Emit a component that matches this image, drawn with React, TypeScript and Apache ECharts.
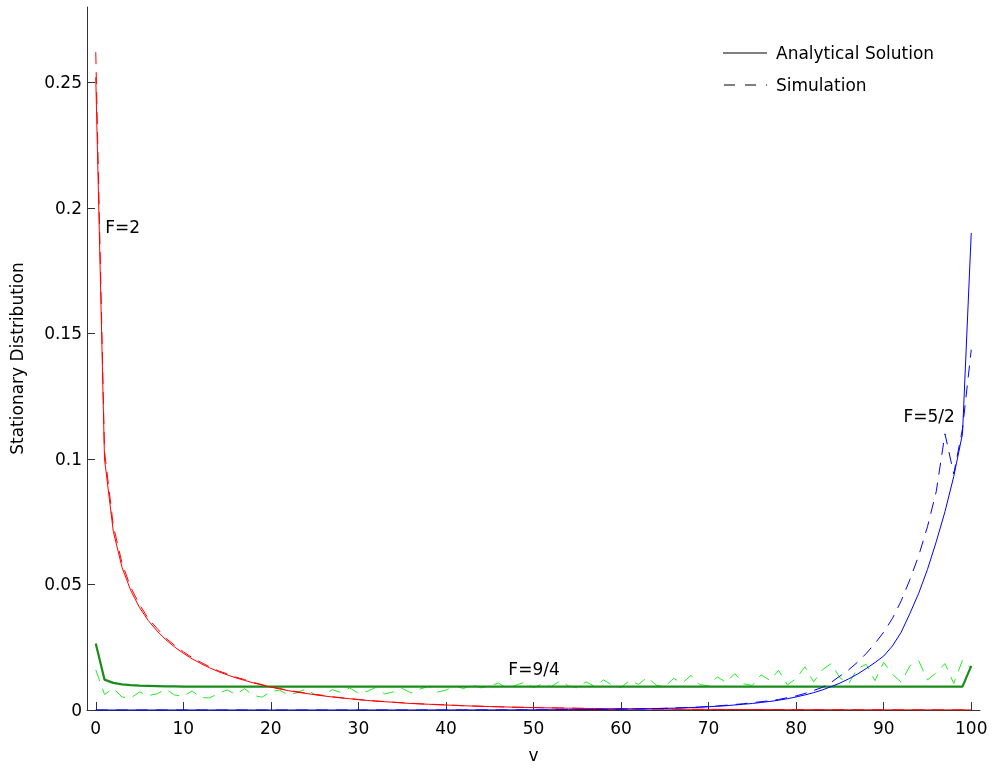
import React, { useEffect, useRef } from "react";
import * as echarts from "echarts";

// v = 0..100
const vValues: number[] = Array.from({ length: 101 }, (_, i) => i);
const xTicks = [0, 10, 20, 30, 40, 50, 60, 70, 80, 90, 100];
const yTicks = [0, 0.05, 0.1, 0.15, 0.2, 0.25];

// F=2 (red)
const redAnalytical = [
  0.252, 0.1, 0.0712, 0.0568, 0.0476, 0.0408, 0.0356, 0.0315, 0.028, 0.0251,
  0.0226, 0.0204, 0.0185, 0.0168, 0.0153, 0.014, 0.0128, 0.0118, 0.0108, 0.0099,
  0.0091, 0.0084, 0.0077, 0.0071, 0.0066, 0.0061, 0.0056, 0.0052, 0.0048, 0.0045,
  0.0041, 0.0038, 0.0035, 0.0033, 0.0031, 0.0028, 0.0026, 0.0024, 0.0023, 0.0021,
  0.002, 0.00184, 0.0017, 0.00158, 0.00147, 0.00137, 0.00127, 0.00118, 0.0011, 0.00103,
  0.00096, 0.00089, 0.00083, 0.00077, 0.00072, 0.00067, 0.00062, 0.00058, 0.00054, 0.0005,
  0.00047, 0.00044, 0.00041, 0.00038, 0.00035, 0.00033, 0.00031, 0.00029, 0.00027, 0.00025,
  0.00024, 0.00022, 0.0002, 0.00019, 0.00018, 0.00017, 0.00016, 0.00015, 0.00014, 0.00013,
  0.00012, 0.00011, 0.0001, 0.0001, 0.00009, 0.00009, 0.00008, 0.00008, 0.00007, 0.00007,
  0.00006, 0.00006, 0.00005, 0.00005, 0.00005, 0.00004, 0.00004, 0.00004, 0.00003, 0.00003,
  0.00003,
];
const redSimulation = [
  0.262, 0.103, 0.0735, 0.0585, 0.0488, 0.042, 0.0364, 0.0325, 0.0286, 0.0258,
  0.0232, 0.0209, 0.019, 0.0172, 0.0156, 0.0144, 0.0131, 0.0121, 0.011, 0.0101,
  0.0092, 0.0086, 0.0078, 0.0073, 0.0067, 0.0062, 0.0058, 0.0053, 0.0049, 0.0046,
  0.0042, 0.0039, 0.0036, 0.0034, 0.0031, 0.0029, 0.0027, 0.0025, 0.0023, 0.0022,
  0.002, 0.0019, 0.0017, 0.0016, 0.0015, 0.0014, 0.0013, 0.0012, 0.0011, 0.00105,
  0.001, 0.00092, 0.00085, 0.0008, 0.00074, 0.0007, 0.00064, 0.0006, 0.00055, 0.00052,
  0.00048, 0.00046, 0.00042, 0.0004, 0.00036, 0.00034, 0.00032, 0.0003, 0.00028, 0.00026,
  0.00025, 0.00023, 0.00021, 0.0002, 0.00019, 0.00018, 0.00016, 0.00015, 0.00015, 0.00013,
  0.00012, 0.00012, 0.00011, 0.0001, 0.00009, 0.00009, 0.00008, 0.00008, 0.00007, 0.00007,
  0.00006, 0.00006, 0.00005, 0.00005, 0.00005, 0.00004, 0.00004, 0.00004, 0.00003, 0.00003,
  0.00003,
];

// F=9/4 (green)
const greenAnalytical = [
  0.0265, 0.0121, 0.0108, 0.0102, 0.0099, 0.0097, 0.0096, 0.0095, 0.0094, 0.0094,
  0.0093, 0.0093, 0.0093, 0.0093, 0.0093, 0.0093, 0.0093, 0.0093, 0.0093, 0.0093,
  0.0093, 0.0093, 0.0093, 0.0093, 0.0093, 0.0093, 0.0093, 0.0093, 0.0093, 0.0093,
  0.0093, 0.0093, 0.0093, 0.0093, 0.0093, 0.0093, 0.0093, 0.0093, 0.0093, 0.0093,
  0.0093, 0.0093, 0.0093, 0.0093, 0.0093, 0.0093, 0.0093, 0.0093, 0.0093, 0.0093,
  0.0093, 0.0093, 0.0093, 0.0093, 0.0093, 0.0093, 0.0093, 0.0093, 0.0093, 0.0093,
  0.0093, 0.0093, 0.0093, 0.0093, 0.0093, 0.0093, 0.0093, 0.0093, 0.0093, 0.0093,
  0.0093, 0.0093, 0.0093, 0.0093, 0.0093, 0.0093, 0.0093, 0.0093, 0.0093, 0.0093,
  0.0093, 0.0093, 0.0093, 0.0093, 0.0093, 0.0093, 0.0093, 0.0093, 0.0093, 0.0093,
  0.0093, 0.0093, 0.0093, 0.0093, 0.0093, 0.0093, 0.0093, 0.0093, 0.0093, 0.0093,
  0.0176,
];
const greenSimulation = [
  0.016, 0.0062, 0.0086, 0.0052, 0.0047, 0.0072, 0.0058, 0.0064, 0.0083, 0.006,
  0.0054, 0.0076, 0.005, 0.0048, 0.0066, 0.008, 0.0062, 0.0085, 0.0058, 0.0051,
  0.0074, 0.0079, 0.006, 0.0069, 0.0084, 0.0062, 0.0058, 0.0081, 0.007, 0.0088,
  0.0066, 0.0074, 0.009, 0.0064, 0.0072, 0.0086, 0.0068, 0.0083, 0.0094, 0.0071,
  0.0079, 0.0097, 0.0085, 0.0101, 0.0088, 0.0096, 0.0107, 0.0086, 0.0099, 0.0111,
  0.0089, 0.0104, 0.0093, 0.0115, 0.0096, 0.0088, 0.0112, 0.0094, 0.012, 0.0098,
  0.009, 0.0118, 0.0102, 0.0131, 0.0099, 0.0093, 0.0126, 0.0107, 0.0138, 0.0101,
  0.0096, 0.0132, 0.011, 0.0145, 0.0104, 0.0098, 0.014, 0.0118, 0.0158, 0.01,
  0.0125, 0.0172, 0.0112, 0.016, 0.0185, 0.0128, 0.0105, 0.0165, 0.0182, 0.0117,
  0.019, 0.0142, 0.0111, 0.0176, 0.0196, 0.012, 0.0148, 0.0185, 0.0106, 0.0198,
  0.0165,
];

// F=5/2 (blue)
const blueAnalytical = [
  0, 0, 0, 0, 0, 0, 0, 0, 0, 0,
  0, 0, 0, 0, 0, 0, 0, 0, 0, 0,
  0, 0, 0, 0, 0, 0, 0, 0, 0, 0,
  0, 0.000005, 0.000006, 0.000007, 0.000008, 0.000009, 0.00001, 0.000012, 0.000014, 0.000016,
  0.000018, 0.00002, 0.000023, 0.000027, 0.00003, 0.000035, 0.00004, 0.000047, 0.000055, 0.000065,
  0.000075, 0.000087, 0.0001, 0.00012, 0.00014, 0.00016, 0.00018, 0.00021, 0.00024, 0.00028,
  0.00032, 0.00037, 0.00042, 0.00049, 0.00056, 0.00064, 0.00074, 0.00085, 0.00097, 0.0011,
  0.0013, 0.0015, 0.0017, 0.002, 0.0023, 0.0026, 0.003, 0.0034, 0.0039, 0.0045,
  0.0052, 0.006, 0.0069, 0.008, 0.0093, 0.0107, 0.0124, 0.0143, 0.0165, 0.0189,
  0.0215, 0.0255, 0.031, 0.0385, 0.0465, 0.056, 0.067, 0.079, 0.093, 0.11,
  0.19,
];
const blueSimulation = [
  0, 0, 0, 0, 0, 0, 0, 0, 0, 0,
  0, 0, 0, 0, 0, 0, 0, 0, 0, 0,
  0, 0, 0, 0, 0, 0, 0, 0, 0, 0,
  0, 0.000004, 0.000007, 0.000006, 0.000009, 0.00001, 0.00001, 0.000013, 0.000015, 0.000017,
  0.00002, 0.000021, 0.000025, 0.000028, 0.000032, 0.000037, 0.000043, 0.00005, 0.000058, 0.00007,
  0.00008, 0.000092, 0.00011, 0.00013, 0.00015, 0.00017, 0.0002, 0.00023, 0.00026, 0.0003,
  0.00034, 0.0004, 0.00045, 0.00052, 0.0006, 0.00069, 0.0008, 0.00092, 0.00105, 0.0012,
  0.0014, 0.0016, 0.0019, 0.0022, 0.0025, 0.0029, 0.0033, 0.0037, 0.0042, 0.0049,
  0.0056, 0.0066, 0.0078, 0.009, 0.011, 0.0135, 0.016, 0.019, 0.0225, 0.0265,
  0.031, 0.0365, 0.0435, 0.052, 0.0615, 0.073, 0.087, 0.11, 0.094, 0.112,
  0.1435,
];

const annotations = [
  { label: "F=2", v: 1.09, y: 0.1925 },
  { label: "F=5/2", v: 92.26, y: 0.117 },
  { label: "F=9/4", v: 47.13, y: 0.0165 },
];

const legendLabels = ["Analytical Solution", "Simulation"];

const FONT = "DejaVu Sans";
const FS = 17;

export default function App() {
  const ref = useRef<HTMLDivElement>(null);
  useEffect(() => {
    const chart = echarts.init(ref.current!, null, { renderer: "svg" });
    const pair = (ys: number[]) => ys.map((y, i) => [vValues[i], y]);
    const axisColor = "#333";
    const textStyle = { color: "#000", fontSize: FS, fontFamily: FONT };
    const line = (name: string, data: number[], color: string, width: number, dashed: boolean, z: number) => ({
      name,
      type: "line",
      data: pair(data),
      symbol: "none",
      showSymbol: false,
      silent: true,
      z,
      lineStyle: { color, width, type: dashed ? [12, 8] : "solid" },
    });
    chart.setOption({
      animation: false,
      grid: { left: 87, right: 13, top: 7, bottom: 56.5, containLabel: false },
      xAxis: {
        type: "value",
        min: -1,
        max: 101,
        name: "v",
        nameLocation: "middle",
        nameGap: 36,
        nameTextStyle: textStyle,
        axisLine: { show: true, onZero: false, lineStyle: { color: axisColor, width: 1 } },
        axisTick: { show: true, inside: true, length: 8, customValues: xTicks, lineStyle: { color: axisColor } },
        axisLabel: { customValues: xTicks, margin: 9, ...textStyle },
        splitLine: { show: false },
      },
      yAxis: {
        type: "value",
        min: 0,
        max: 0.28,
        name: "Stationary Distribution",
        nameLocation: "middle",
        nameGap: 62,
        nameTextStyle: textStyle,
        axisLine: { show: true, onZero: false, lineStyle: { color: axisColor, width: 1 } },
        axisTick: { show: true, inside: true, length: 8, customValues: yTicks, lineStyle: { color: axisColor } },
        axisLabel: { customValues: yTicks, margin: 5, ...textStyle },
        splitLine: { show: false },
      },
      series: [
        line("F=9/4 simulation", greenSimulation, "#22ee22", 1, true, 2),
        line("F=9/4 analytical", greenAnalytical, "#1a8c1a", 2.2, false, 3),
        line("F=2 simulation", redSimulation, "#ff0000", 1, true, 4),
        line("F=2 analytical", redAnalytical, "#ff0000", 1, false, 5),
        line("F=5/2 simulation", blueSimulation, "#0000ff", 1, true, 6),
        line("F=5/2 analytical", blueAnalytical, "#0000ff", 1, false, 7),
      ],
    });

    const annoGraphics = annotations.map((a) => {
      const p = chart.convertToPixel({ gridIndex: 0 }, [a.v, a.y]) as number[];
      return {
        type: "text",
        x: p[0],
        y: p[1],
        z: 20,
        style: {
          text: a.label,
          fontSize: FS,
          fontFamily: FONT,
          fill: "#000",
          align: "left",
          verticalAlign: "middle",
        },
      };
    });
    const legendGraphics = [
      { type: "line", z: 20, shape: { x1: 723, y1: 53, x2: 767, y2: 53 }, style: { stroke: "#000", lineWidth: 1 } },
      { type: "line", z: 20, shape: { x1: 724, y1: 85, x2: 767, y2: 85 }, style: { stroke: "#000", lineWidth: 1, lineDash: [11, 10] } },
      ...legendLabels.map((t, i) => ({
        type: "text",
        z: 20,
        x: 776,
        y: 53 + i * 32,
        style: { text: t, fontSize: FS, fontFamily: FONT, fill: "#000", align: "left", verticalAlign: "middle" },
      })),
    ];
    chart.setOption({ graphic: [...legendGraphics, ...annoGraphics] });
    return () => chart.dispose();
  }, []);
  return <div ref={ref} style={{ position: "fixed", left: 0, top: 0, width: 993, height: 768 }} />;
}
